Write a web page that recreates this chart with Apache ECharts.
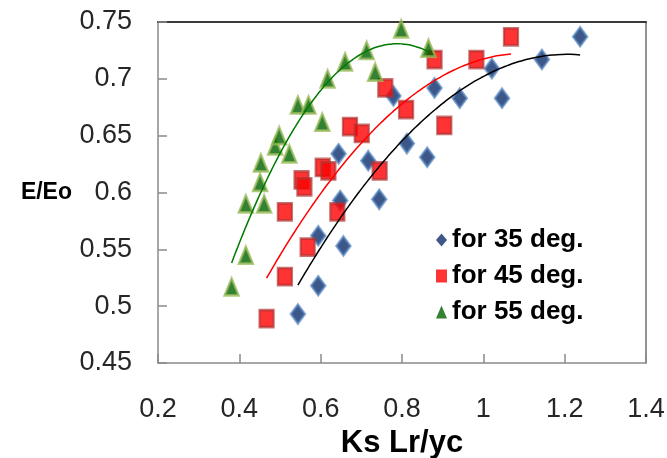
<!DOCTYPE html>
<html>
<head>
<meta charset="utf-8">
<title>E/Eo vs Ks Lr/yc</title>
<script src="https://cdn.jsdelivr.net/npm/echarts@6/dist/echarts.min.js"></script>
<style>
  html, body { margin: 0; padding: 0; background: #fff; }
  #chart { width: 667px; height: 458px; }
</style>
</head>
<body>
<div id="chart"></div>
<script>
// axis ticks
const xTicks = [0.2, 0.4, 0.6, 0.8, 1, 1.2, 1.4];
const yTicks = [0.45, 0.5, 0.55, 0.6, 0.65, 0.7, 0.75];

const seriesNames = ['for 35 deg.', 'for 45 deg.', 'for 55 deg.'];

// [Ks Lr/yc, E/Eo]
const deg35 = [
  [0.544, 0.493], [0.594, 0.518], [0.594, 0.562], [0.656, 0.553], [0.648, 0.593],
  [0.644, 0.634], [0.717, 0.628], [0.744, 0.594], [0.779, 0.685], [0.812, 0.643],
  [0.862, 0.631], [0.880, 0.692], [0.942, 0.683], [1.021, 0.709], [1.046, 0.683],
  [1.144, 0.717], [1.238, 0.737],
];
const deg45 = [
  [0.467, 0.489], [0.512, 0.526], [0.568, 0.552], [0.512, 0.583], [0.553, 0.611],
  [0.560, 0.605], [0.605, 0.622], [0.619, 0.619], [0.641, 0.583], [0.672, 0.658],
  [0.701, 0.652], [0.745, 0.619], [0.759, 0.692], [0.810, 0.673], [0.880, 0.717],
  [0.904, 0.659], [0.983, 0.717], [1.068, 0.737],
];
const deg55 = [
  [0.381, 0.517], [0.416, 0.545], [0.416, 0.590], [0.461, 0.590], [0.451, 0.609],
  [0.453, 0.626], [0.488, 0.641], [0.498, 0.650], [0.523, 0.634], [0.544, 0.677],
  [0.570, 0.677], [0.604, 0.662], [0.617, 0.700], [0.660, 0.715], [0.713, 0.725],
  [0.734, 0.706], [0.798, 0.744], [0.865, 0.727],
];

// 2nd order polynomial trendline (least squares), like the spreadsheet one
function quadFit(pts) {
  const s = [0, 0, 0, 0, 0];
  const t = [0, 0, 0];
  pts.forEach(([x, y]) => {
    let p = 1;
    for (let k = 0; k < 5; k++) {
      s[k] += p;
      if (k < 3) t[k] += p * y;
      p *= x;
    }
  });
  const m = [[s[0], s[1], s[2]], [s[1], s[2], s[3]], [s[2], s[3], s[4]]];
  const det = (a) =>
    a[0][0] * (a[1][1] * a[2][2] - a[1][2] * a[2][1]) -
    a[0][1] * (a[1][0] * a[2][2] - a[1][2] * a[2][0]) +
    a[0][2] * (a[1][0] * a[2][1] - a[1][1] * a[2][0]);
  const d = det(m);
  return [0, 1, 2].map(c => det(m.map((row, i) => row.map((v, j) => (j === c ? t[i] : v)))) / d);
}

function trendline(pts) {
  const c = quadFit(pts);
  const xs = pts.map(p => p[0]);
  const lo = Math.min(...xs), hi = Math.max(...xs);
  const out = [];
  for (let i = 0; i <= 60; i++) {
    const x = lo + (hi - lo) * i / 60;
    out.push([x, c[0] + c[1] * x + c[2] * x * x]);
  }
  return out;
}

const chart = echarts.init(document.getElementById('chart'));

const tickFont = {
  fontFamily: '"Liberation Sans Narrow", "Liberation Sans", Arial, sans-serif',
  fontSize: 27,
  color: '#262626',
};
const axisGray = '#8a8a8a';

const option = {
  backgroundColor: '#fff',
  animation: false,
  grid: {
    left: 158, right: 21, top: 22, bottom: 95,
    outerBoundsMode: 'none',
  },
  legend: {
    orient: 'vertical',
    left: 431,
    top: 222,
    itemWidth: 11,
    itemHeight: 13,
    itemGap: 10,
    // legend keys are drawn without the soft halo the plot markers have
    data: seriesNames.map(name => ({ name, itemStyle: { borderWidth: 0 } })),
    textStyle: {
      fontFamily: '"Liberation Sans", Arial, sans-serif',
      fontWeight: 'bold',
      fontSize: 26,
      color: '#000',
    },
  },
  xAxis: [{
    type: 'value',
    min: xTicks[0],
    max: xTicks[xTicks.length - 1],
    interval: xTicks[1] - xTicks[0],
    name: 'Ks Lr/yc',
    nameLocation: 'middle',
    nameGap: 64,
    nameTextStyle: {
      fontFamily: '"Liberation Sans Narrow", "Liberation Sans", Arial, sans-serif',
      fontWeight: 'bold',
      fontSize: 31,
      color: '#000',
    },
    axisLine: { lineStyle: { color: axisGray, width: 1.5 } },
    axisTick: { inside: true, length: 9, lineStyle: { color: axisGray, width: 1.5 } },
    axisLabel: { ...tickFont, margin: 33 },
    splitLine: { show: false },
  }, {
    type: 'value',
    position: 'top',
    min: xTicks[0],
    max: xTicks[xTicks.length - 1],
    axisLine: { show: true, lineStyle: { color: '#3a3a3a', width: 2 } },
    axisTick: { show: false },
    axisLabel: { show: false },
    splitLine: { show: false },
  }],
  yAxis: [{
    type: 'value',
    min: yTicks[0],
    max: yTicks[yTicks.length - 1],
    interval: 0.05,
    name: 'E/Eo',
    nameLocation: 'middle',
    nameRotate: 0,
    nameGap: 86,
    nameTextStyle: {
      fontFamily: '"Liberation Sans Narrow", "Liberation Sans", Arial, sans-serif',
      fontWeight: 'bold',
      fontSize: 23,
      color: '#000',
      padding: [8, 0, 0, 0],
    },
    axisLine: { show: true, lineStyle: { color: axisGray, width: 1.5 } },
    axisTick: { show: true, inside: true, length: 9, lineStyle: { color: axisGray, width: 1.5 } },
    axisLabel: { ...tickFont, margin: 26 },
    splitLine: { show: false },
  }, {
    type: 'value',
    position: 'right',
    min: yTicks[0],
    max: yTicks[yTicks.length - 1],
    axisLine: { show: true, lineStyle: { color: '#6f6f6f', width: 1.5 } },
    axisTick: { show: false },
    axisLabel: { show: false },
    splitLine: { show: false },
  }],
  series: [
    {
      name: seriesNames[0],
      type: 'scatter',
      symbol: 'diamond',
      symbolSize: [14, 19],
      itemStyle: { color: '#0c2d6b', borderColor: 'rgba(79,129,189,0.85)', borderWidth: 2.5 },
      data: deg35,
      z: 2,
    },
    {
      name: seriesNames[1],
      type: 'scatter',
      symbol: 'rect',
      symbolSize: [14, 17],
      itemStyle: { color: '#ff0000', borderColor: 'rgba(176,48,48,0.85)', borderWidth: 2.5 },
      data: deg45,
      z: 3,
    },
    {
      name: seriesNames[2],
      type: 'scatter',
      symbol: 'triangle',
      symbolSize: [14, 17],
      itemStyle: { color: '#006100', borderColor: 'rgba(155,187,89,0.95)', borderWidth: 2.5 },
      data: deg55,
      z: 4,
    },
    {
      type: 'line',
      data: trendline(deg35),
      showSymbol: false,
      smooth: true,
      lineStyle: { color: '#000', width: 1.5 },
      z: 5,
    },
    {
      type: 'line',
      data: trendline(deg45),
      showSymbol: false,
      smooth: true,
      lineStyle: { color: '#ff0000', width: 1.5 },
      z: 5,
    },
    {
      type: 'line',
      data: trendline(deg55),
      showSymbol: false,
      smooth: true,
      lineStyle: { color: '#007a00', width: 1.5 },
      z: 5,
    },
  ],
};

chart.setOption(option);
</script>
</body>
</html>
